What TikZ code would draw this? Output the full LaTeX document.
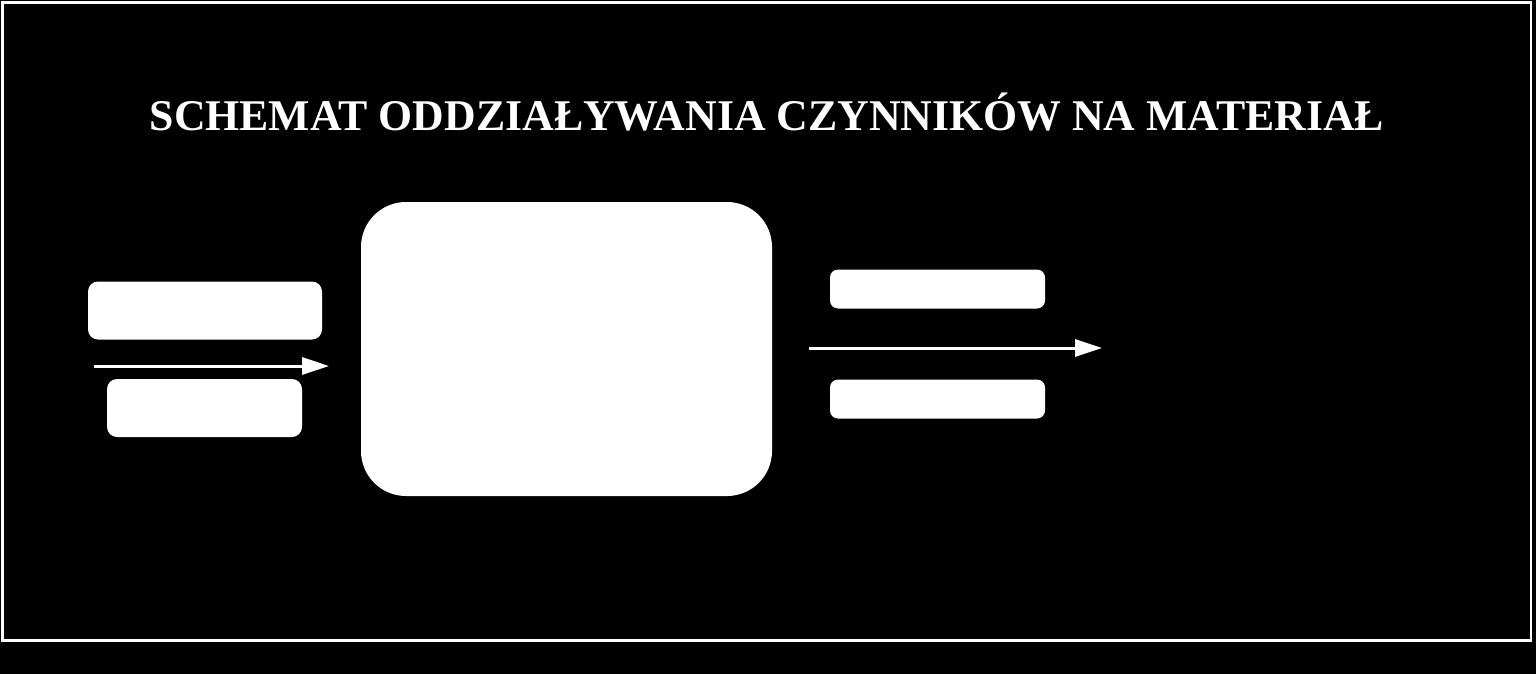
\documentclass[tikz,border=0pt]{standalone}
\usepackage{fontspec}
\setmainfont{Liberation Serif}
\usetikzlibrary{positioning, arrows.meta}
\tikzset{
    x=1pt, y=-1pt, % pixel-like coordinates, y pointing down
    box/.style={rectangle, fill=white, inner sep=0pt, rounded corners=10pt}, % the small white boxes
    bigbox/.style={rectangle, fill=white, inner sep=0pt, rounded corners=45pt}, % the material box
    flow/.style={draw=white, line width=3pt, -{Triangle[length=27pt, width=17pt]}}, % the arrows
}
\begin{document}
\begin{tikzpicture}
    \fill[black] (0,0) rectangle (1536,674);
    \useasboundingbox (0,0) rectangle (1536,674);
    \draw[white, line width=2.2pt] (2.5,2.5) rectangle (1531,640.5);
    \node[anchor=base, text=white, font=\fontsize{43.8}{50}\selectfont\bfseries] (title) at (767,130.7)
        {SCHEMAT ODDZIAŁYWANIA CZYNNIKÓW NA MATERIAŁ};
    \node[box, minimum width=234pt, minimum height=58pt] (in1) at (205,310.5) {};
    \node[box, minimum width=195pt, minimum height=58pt] (in2) at (204.5,408) {};
    \node[bigbox, minimum width=411pt, minimum height=294pt] (mat) at (566.5,349) {};
    \node[box, rounded corners=8pt, minimum width=215pt, minimum height=39pt] (out1) at (937.5,289) {};
    \node[box, rounded corners=8pt, minimum width=215pt, minimum height=39pt, below=70.6pt of out1] (out2) {};
    \coordinate (inA) at (94,366);
    \coordinate (inB) at (329,366);
    \coordinate (outA) at (809,348);
    \coordinate (outB) at (1102,348);
    \draw[flow] (inA) -- (inB);
    \draw[flow] (outA) -- (outB);
\end{tikzpicture}
\end{document}
